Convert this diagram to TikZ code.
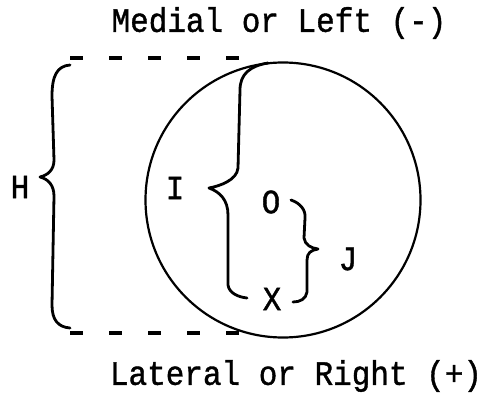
\documentclass[tikz,border=0pt]{standalone}
\usepackage{fontspec}
\usepackage{graphicx}
\newfontfamily\typefont{Liberation Mono}[FakeBold=1.2]
\begin{document}
\begin{tikzpicture}[x=1pt,y=-1pt,
  title/.style={inner sep=0pt, font=\fontsize{31}{36}\typefont},
  lbl/.style={inner sep=0pt, font=\fontsize{31}{36}\typefont},
  bracestroke/.style={line width=2.8pt, line cap=round, line join=round},
  dashline/.style={line width=3.5pt, dash pattern=on 13pt off 26pt}]
\useasboundingbox (0,0) rectangle (494,396);
\fill[white] (0,0) rectangle (494,396);
% circle
\node[circle, draw, line width=2.2pt, minimum size=275pt, inner sep=0pt] (c) at (283,200) {};
% titles
\node[title] (top) at (279,23) {\scalebox{1}[1.1]{Medial or Left (-)}};
\node[title] (bot) at (296,376) {\scalebox{1}[1.1]{Lateral or Right (+)}};
% labels
\node[lbl] (H) at (20,187) {\scalebox{1}[1.1]{H}};
\node[lbl] (I) at (175,188) {\scalebox{1}[1.1]{I}};
\node[lbl] (O) at (271,202) {\scalebox{1}[1.1]{O}};
\node[lbl] (X) at (272,299) {\scalebox{1}[1.1]{X}};
\node[lbl] (J) at (348,259) {\scalebox{1}[1.1]{J}};
% dashed lines
\coordinate (dt1) at (70,58);
\coordinate (dt2) at (242,58);
\coordinate (db1) at (70,333);
\coordinate (db2) at (242,333);
\draw[dashline] (dt1) -- (dt2);
\draw[dashline] (db1) -- (db2);
% H brace
\draw[bracestroke] (70,65) .. controls (57,66) and (52,76) .. (52,96)
  -- (54,160) .. controls (54,170) and (48,175) .. (40,177)
  .. controls (48,179) and (54,185) .. (54,196)
  -- (52,305) .. controls (52,320) and (58,327) .. (70,328);
% I brace
\draw[bracestroke] (268,63) .. controls (250,66) and (240,74) .. (240,90)
  -- (238,168) .. controls (237,180) and (220,186) .. (209,188)
  .. controls (220,192) and (228,200) .. (228,215)
  -- (228,285) .. controls (229,293) and (238,297) .. (247,298);
% J brace
\draw[bracestroke] (291,200) .. controls (300,203) and (306,210) .. (305,218)
  -- (304,238) .. controls (305,245) and (311,248) .. (318,249)
  .. controls (311,250) and (307,253) .. (307,260)
  -- (307,292) .. controls (306,299) and (300,302) .. (293,302);
\end{tikzpicture}
\end{document}
